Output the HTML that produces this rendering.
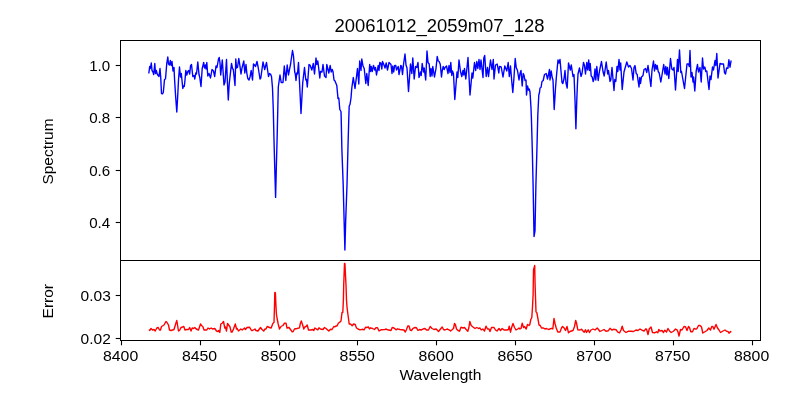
<!DOCTYPE html>
<html>
<head>
<meta charset="utf-8">
<title>20061012_2059m07_128</title>
<style>
  html, body { margin: 0; padding: 0; background: #ffffff; }
  body { width: 800px; height: 400px; overflow: hidden; font-family: "Liberation Sans", sans-serif; }
  svg { display: block; will-change: transform; }
  text { font-family: "Liberation Sans", sans-serif; fill: #000; }
  .tick { font-size: 14.2px; }
  .lab { font-size: 14.2px; }
  .title { font-size: 17.6px; }
</style>
</head>
<body>
<svg width="800" height="400" viewBox="0 0 800 400">
  <rect x="0" y="0" width="800" height="400" fill="#ffffff"/>

  <!-- title -->
  <text class="title" x="334.6" y="31.9" textLength="210" lengthAdjust="spacingAndGlyphs">20061012_2059m07_128</text>

  <!-- data lines -->
  <g id="lines" fill="none" stroke-linejoin="round" stroke-linecap="butt">
    <polyline id="spec" stroke="#0000ff" stroke-width="1.39" points="148.8,73.5 149.7,66.5 150.3,68.5 151.3,63 152,70.5 153,72 153.7,74.5 154.8,63.5 155.5,73.5 156.3,70.5 157.2,74 158.2,75.5 159,76.5 160,68.5 160.7,77 161.5,93.5 162.5,93.8 163.3,92.5 164.5,79.5 165.5,79 166.8,63 167.8,57 168.5,64 169.5,65 170.3,60.5 171.2,65.5 172,61.5 173,71 174,67.5 174.6,80 175.6,96 176.8,112 177.6,98 178.5,80 179.5,67 180.5,77 181.3,73.5 182.8,88.5 183.5,86 184.3,86.5 185,80 185.8,70.5 186.8,75 187.8,71.5 188.8,70.5 189.7,74 190.5,66 191.5,64.5 192.8,76.5 194,75.5 194.8,79 195.8,73 196.5,74 197.8,62 199,74.5 199.8,77.5 201,86.5 202.2,68.5 203.7,62.5 204.5,68 205.5,65 206,69 206.8,62.5 207.8,76 209,73.5 210.5,78 212,69.5 213.5,71 214.7,76.5 216,66 217,67.5 218.5,59 219.2,57.5 220,63 220.7,75 222.3,60 224,85 225,82 226.5,59.5 227.4,82 228.3,100 229.2,84 231.5,63.5 232.5,68.5 233.3,69.5 235,85.5 235.8,59 236.5,68 237.5,67.5 238.8,58.5 239.8,65 241,74 242,68 243.8,61 244.8,73 246,64.5 246.8,73 247.8,78.5 249,80 250,77 251.2,70.5 252.5,80 253.5,64 254.5,65 255.5,66.5 257,61.5 258.2,67.5 260,79 260.8,78 263,62 264.7,69.5 266.5,62.5 268.5,76.5 269.5,73.5 270.5,74 271.5,76.5 272.5,88 273.3,110 274.0,140 274.8,170 275.6,197.4 276.4,165 277.2,135 278,100 278.3,87 279,82 280,75 281.2,82.5 283,82.5 284.3,66 285.8,80.5 287.2,65 288.5,75 289.5,69.5 290.5,64.5 292.5,50.5 293.5,56 294.7,72 295.3,74 296,80.5 296.8,73 297.5,74 298.5,62.5 299.5,82 301,113.5 302.7,83 304.5,67.5 305.8,80 306.5,79.5 307.3,87 309,64.5 310,65 311.8,70 313.3,63.5 314.5,74 316,58 316.8,64.5 317.8,61 318.5,66.5 319.8,78 320.5,71.5 322,72 323,64.5 324.5,76 326,77.5 326.8,64.5 328.8,73 330.2,65.5 331.2,72 332.2,69.5 333,71.5 334,80 335,81 336.8,85.5 338,98.5 338.8,98 339.8,109.5 341,111.5 341.2,118 341.9,150 343.2,185 344.1,220 344.9,250.1 345.7,220 347,185 347.9,150 348.8,118 349.2,106 350,104.5 351,98 351.8,88 353.3,77.5 355,88.5 357.5,68.5 358.8,84 359.7,61 361,70.5 361.8,59 363,66 364.2,68.5 365.8,83.5 366.8,73.5 368.2,85.5 369.7,64.5 370.5,71.5 371.2,66.5 372.2,71.5 373.5,65.5 374.8,70 375.5,67.5 376.5,75 378.2,65.5 379,70.5 379.8,62.5 380.8,63 381.8,69 382.5,61.5 384,65 385,68 386.2,63 387.5,70 389,62.5 391,64.5 392,73.5 392.8,66 393.7,72 394.7,65.5 395.8,65.5 396.5,70 398.2,66.5 399,74.5 400.8,65.5 401.5,66 402.5,74.5 403.5,64.5 405,54 406,65 407,68 408.5,91.5 410.5,64 411.8,73.5 412.8,58 414.2,79 415.5,66.5 416.8,67.5 418,62.5 419,77.5 420.5,72 421.2,75.5 422.2,63.5 423.5,72 424.2,68 425.7,80 427,51 428,62.5 429.2,64 430.2,76.5 431,68.5 432,76 432.8,66.5 434.5,77 436,68.5 437.2,56.5 438.2,61 439.2,61.5 440.3,64.5 441.5,77 442.2,71 443.2,66.5 444.2,69.5 445,67.5 446.5,66 448,73.5 449,65.5 450,72.5 450.8,62.5 451.8,75.5 452.5,71 453.5,74 454.8,99.5 457,72 457.8,77.5 459,60 460.5,71.5 461.8,76.5 463,70.5 463.8,75 464.5,68.5 465.8,79 468,57.5 470,95 472,73 472.8,78 474.5,62.5 475.7,70.5 476.8,61.5 477.8,68.5 479,59.5 480,69.5 481,60 483,77.5 483.8,58 484.7,55.5 486.2,76.5 487.5,67.5 488.5,76.5 490.5,60 492,69.5 493.3,59.5 494,79 495.5,65 497.2,64 498.8,73 499.5,66.5 501.2,67 503,77 504.8,66 506.8,71 508.2,62.5 509.3,76.5 510.5,66 511.8,82 512.8,92.5 513.8,80 515.2,58.5 516.2,67.5 517.5,70.5 519,80 520,73.5 521,70.5 522.2,86 523.2,73.5 524,75 525,80.5 526,80 526.5,95 527.5,86 528.5,90 529.2,89 530,92 531,108 531.4,118 532.3,150 533.1,185 534.05,236.5 535.0,231 535.9,185 536.9,150 537.8,115 538.8,95 539.5,92.5 540,88 541,87.5 542,81.5 543.2,80.5 544.5,74.5 546.2,73.5 547.5,79 548.5,74.5 549.5,69.5 550,80 551.2,71 552.2,77.5 553,80 554.2,109.5 555.5,88 556.5,75.5 558,60 559,63 560,59.5 562,82.5 562.8,83.5 564,79 565,70.5 566,83 567.2,88 568.5,63 570.3,70 571.3,65 573,76.5 574,74.5 575,100 575.9,128.7 576.8,100 577.4,85 578,74 579.5,68 581,76.5 582,73.5 583.5,62.5 584.5,65.5 585.5,74 586.8,62.5 587.7,70 588.7,60 589.5,70.5 590.2,63.5 591.2,76 592.2,77 593.2,81.5 594,79 595,69 595.8,80 596.8,66.5 598.2,80.5 599.5,71 601.5,61.5 603,71.5 604.2,76 606.2,62 607.7,74 608.5,70.5 610,81.5 610.8,80 612,67.5 614,90.5 614.8,79.5 615.8,81.5 617,66.5 617.8,71.5 619,59.5 620,70 620.7,63 622.2,89.5 624,72 626.8,62 628.5,67 630,65.5 631.5,68.5 633,80 634,67.5 635,65.5 636.2,73.5 637.2,74.5 639,87 639.8,77.5 640.5,83.5 641.5,77 643,75.5 644,69.5 645.5,68.5 646.8,72.5 648,65.5 649.2,74 650.9,86.5 652,70 653.5,61 654.5,71 655.5,64.5 656.5,69 657.2,65.5 658.2,71.5 659.2,73 660.8,82 662,75 663.7,64.5 665,74 665.8,66.5 666.8,75 667.5,67.5 668.8,78.5 670.5,58.5 671.8,69 673,70 674,67.5 675.5,90 677.5,59.5 678.2,71.5 679.5,50 680.8,72.5 681.5,71.5 684.5,88.5 687,64 688.5,64 689.3,66.5 690,50.5 691,77 692,72.5 693,82 693.6,77 694.8,91 696.2,71 697.5,64.5 698.5,72 700,67.5 701.2,82 702.5,58 703.5,69 704.8,67 705.8,71.5 706.8,71 709,89.5 710,76 711,79.5 712.5,67 713.5,70 715,60.5 715.8,65.5 716.8,53.5 718,78 720,63.5 721.5,64 723.5,64 724.5,72.5 725.5,74 726.6,68 727.9,68.4 728.9,59.8 730,67.2 731.1,60.5"/>
    <polyline id="err" stroke="#ff0000" stroke-width="1.39" points="148.8,330.5 150,330 151,328.5 152.5,330 154,329.5 155.2,331 156.8,328 158.2,327.5 159.5,330 160.5,330 161.5,326.5 164,325 166,321.5 167,322.5 168.5,325 169.5,330 171,330.5 174,329.5 175.5,324.5 176.8,320.5 178.5,331 179.5,330.5 181,327.5 182.5,327 183.8,326.5 185,330 186.5,329.5 188.5,329.5 189.7,327.5 191,331 192.2,328 193.5,328.5 194.8,327.5 196.2,329 198.5,330 200.5,324 201.5,325.5 202.8,326.5 204,330 206.8,330 208,328 209.5,329 211.2,328 212.5,329 214.8,328.5 216.5,331 218,331.5 218.8,330.5 219.8,332.5 220.8,324 222.5,323 223.5,321.5 224.8,328 225.5,327 226.5,331 227.5,323.5 229,325.5 230,327 231.2,332 232.2,332 233.5,329 235.3,324 236.5,329 237.2,328.5 238.5,331 240.8,329 242.2,330 244.5,328 245.5,329.5 247,327.5 249.5,327.2 251.5,330.5 252.5,330.5 255,329 256,330.5 258,331 260.5,327.5 262,329.5 263.7,331 265,329 266,329 267.2,326.5 269.5,327.5 271.2,328 272.8,323.5 274,322.5 274.5,306 274.8,292.4 275.4,292.8 275.9,305 276.4,314 277.2,319 278.2,324 279.5,329 281,326.5 283,325.5 284.5,323.2 286,323.2 287,328 289,327.5 290.5,329.5 292.2,331.8 293.2,331.5 294.5,329 297,328.5 299.5,327.8 300.3,323.5 301.3,321 302.5,324.5 303.8,329 304.8,327 306,326.5 307.2,325 308.5,330 311,330 312.8,329.5 313.8,330.5 314.8,328 316.2,328.8 317.8,329.8 319,327.8 320.5,329 323,329.5 324.5,327.5 326,328.5 328.8,331 330.5,329.2 332,329.5 333.8,326.5 335,326.8 336.2,325.8 337,326 338.5,323 339.8,322.2 341,321 342,312.5 342.8,312.5 343.4,300 343.7,285 344.5,263.4 344.9,263.6 346.0,285 346.5,300 347,307 348,315 349.2,324 350.5,324 352.2,325.8 353.5,324 355.2,324.5 356.5,328 358,329 360,329.8 362,329.3 364.2,329.8 365.5,327.2 367,327.5 368.2,326.8 369.5,329 370.5,327.8 372.5,328.5 374.5,329.5 375.8,327.8 377.5,327.8 379,331 381,329.8 385,329.5 386.2,329 387.5,329.8 391,330.5 392.2,327.5 394,328 396,329.8 397.5,328.8 400,329.5 404,330 405.3,332 406.5,329.5 407.8,326 409,326 410.2,330 411.5,330.5 413,328.3 415,327.5 416.5,327.8 418,330.5 419.5,329.5 421,330 423.5,328.8 425,328.5 426.5,330 428.5,330 430.2,326.5 432,328.5 434,329.5 436.2,329 438.5,331.5 440.5,329 442.2,327 443.5,329.5 445,330 447,329 449,329.8 450.5,331 452,329.8 453.5,328.5 454.5,323.5 455.5,325 456.5,329 458,330.5 459.5,331.2 461,327.2 463,328 464.5,327.5 466.2,329.5 467.8,331.2 468.8,328 469.8,321.5 471.2,325.5 473,327 475,328.5 476.8,327.5 478.5,328.5 480,328 481.2,330 482.8,329 484.5,331 486,326.2 487.5,329 489,329 490,331.5 491.5,327.5 494,327.5 495.5,330 497,331 499,328.5 500.5,330.5 502.2,328.5 504,330 507,330 508.5,329.5 509.2,326.2 510.5,332.2 511.8,327 513,323.5 514.5,327.5 516,330 517.8,329 519,328 520,329 521,328.5 522.2,323.2 523.5,327.5 524.5,326.5 526.2,329 527.5,324.5 529,325.5 529.8,324.5 530.8,319.5 531.8,317.5 532.5,307 533.1,295 533.5,270 534.7,265.5 535.1,285 535.6,300 536,312 536.8,312.5 538,319 539,325 540.2,325.5 541.5,328 543.5,328 545,329 546.5,328.5 548.5,329.5 551.5,328.3 552.8,329 554,318.5 555,323.5 556.2,328 557.8,332 560,332 561.5,328 562.5,326.5 564,327.8 565.5,330.5 567,326.5 568.5,332.8 570,331.5 573,330.5 574.5,326.5 575.7,320.5 576.5,323 577.8,329.8 580,330 581.5,329.2 583,331 584.2,332.2 585.5,329.8 586.5,332.5 588.2,329.8 589.5,332.5 591,330 593,329 595,330 597.2,328 598.5,329.5 600,331.5 602,330.5 604,329.5 606,331.2 608.2,330.8 610,328.3 611.8,330 613.5,329.3 616.2,329.8 617.8,332.2 619.5,332.8 621,330 622.2,326.2 623.5,330.5 626,332.5 628.5,331.2 631,331.2 633.5,331.5 636,330 638,330.5 640,329 642,330.2 644,331 646,328.8 646.8,330 648,334.5 649.2,329 651,327 652.5,332.5 654.5,332.8 656.5,331.8 657.8,332.8 658.8,329.5 660,331.2 662,330.5 663.5,332.5 664.8,330.2 666.5,332 668,328.5 669.5,331 671.2,332.5 673,331.5 674.2,330.5 675.5,329 677,329.8 678,332 679,336 680.5,329.5 682,330 684,326.5 685.5,326.8 687,330.5 688.5,326.5 689.5,327.5 690.8,331.8 692.5,331.8 694,328.5 696,329.2 697,328.5 698.5,325.5 700,325.5 701.5,327 702.8,333 704.5,332 707,330.5 708.8,328 710.5,330 711.8,326.5 712.8,326.5 714,329.2 716,324.5 717.5,328 719,330 720.5,332.5 723,331 725,330 726.5,331.2 728,331.5 729,333.2 730.5,331.5 731.2,332.2"/>
  </g>

  <!-- axes frames -->
  <g fill="none" stroke="#000" stroke-width="1.1" shape-rendering="crispEdges">
    <rect x="120.5" y="40.5" width="640" height="220"/>
    <rect x="120.5" y="260.5" width="640" height="80"/>
  </g>

  <!-- y ticks top -->
  <g stroke="#000" stroke-width="1.1">
    <line x1="115.7" x2="120.5" y1="65.5" y2="65.5"/>
    <line x1="115.7" x2="120.5" y1="117.5" y2="117.5"/>
    <line x1="115.7" x2="120.5" y1="170.5" y2="170.5"/>
    <line x1="115.7" x2="120.5" y1="222.5" y2="222.5"/>
  </g>
  <g class="tick">
    <text x="89.2" y="71" textLength="21" lengthAdjust="spacingAndGlyphs">1.0</text>
    <text x="89.2" y="123.3" textLength="21" lengthAdjust="spacingAndGlyphs">0.8</text>
    <text x="89.2" y="175.7" textLength="21" lengthAdjust="spacingAndGlyphs">0.6</text>
    <text x="89.2" y="228.1" textLength="21" lengthAdjust="spacingAndGlyphs">0.4</text>
  </g>

  <!-- y ticks bottom -->
  <g stroke="#000" stroke-width="1.1">
    <line x1="115.7" x2="120.5" y1="295.5" y2="295.5"/>
    <line x1="115.7" x2="120.5" y1="338.5" y2="338.5"/>
  </g>
  <g class="tick">
    <text x="80.6" y="301" textLength="30.2" lengthAdjust="spacingAndGlyphs">0.03</text>
    <text x="80.6" y="343.8" textLength="30.2" lengthAdjust="spacingAndGlyphs">0.02</text>
  </g>

  <!-- x ticks -->
  <g stroke="#000" stroke-width="1.1" id="xt">
    <line x1="121.5" x2="121.5" y1="340.5" y2="345.3"/>
    <line x1="200.5" x2="200.5" y1="340.5" y2="345.3"/>
    <line x1="279.5" x2="279.5" y1="340.5" y2="345.3"/>
    <line x1="357.5" x2="357.5" y1="340.5" y2="345.3"/>
    <line x1="436.5" x2="436.5" y1="340.5" y2="345.3"/>
    <line x1="515.5" x2="515.5" y1="340.5" y2="345.3"/>
    <line x1="594.5" x2="594.5" y1="340.5" y2="345.3"/>
    <line x1="673.5" x2="673.5" y1="340.5" y2="345.3"/>
    <line x1="752.5" x2="752.5" y1="340.5" y2="345.3"/>
  </g>
  <g class="tick" id="xtl">
    <text x="103.0" y="360.6" textLength="35.2" lengthAdjust="spacingAndGlyphs">8400</text>
    <text x="181.9" y="360.6" textLength="35.2" lengthAdjust="spacingAndGlyphs">8450</text>
    <text x="260.8" y="360.6" textLength="35.2" lengthAdjust="spacingAndGlyphs">8500</text>
    <text x="339.6" y="360.6" textLength="35.2" lengthAdjust="spacingAndGlyphs">8550</text>
    <text x="418.5" y="360.6" textLength="35.2" lengthAdjust="spacingAndGlyphs">8600</text>
    <text x="497.4" y="360.6" textLength="35.2" lengthAdjust="spacingAndGlyphs">8650</text>
    <text x="576.3" y="360.6" textLength="35.2" lengthAdjust="spacingAndGlyphs">8700</text>
    <text x="655.1" y="360.6" textLength="35.2" lengthAdjust="spacingAndGlyphs">8750</text>
    <text x="734.0" y="360.6" textLength="35.2" lengthAdjust="spacingAndGlyphs">8800</text>
  </g>

  <!-- axis labels -->
  <text class="lab" x="399.4" y="379.6" textLength="82" lengthAdjust="spacingAndGlyphs">Wavelength</text>
  <text class="lab" transform="translate(53.2,184.5) rotate(-90)" textLength="66" lengthAdjust="spacingAndGlyphs">Spectrum</text>
  <text class="lab" transform="translate(53.2,318.4) rotate(-90)" textLength="34.4" lengthAdjust="spacingAndGlyphs">Error</text>
</svg>
</body>
</html>
